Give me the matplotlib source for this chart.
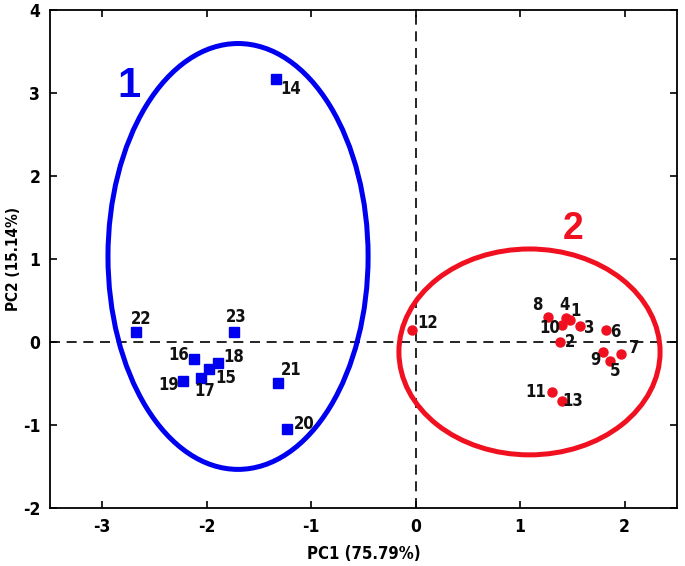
import matplotlib
matplotlib.use("Agg")
import matplotlib.pyplot as plt
from matplotlib.patches import Ellipse

plt.rcParams['font.family'] = ['DejaVu Sans']
plt.rcParams['font.stretch'] = 'condensed'
plt.rcParams['axes.unicode_minus'] = False

# ---- data ----
group1_ids = ["14", "22", "23", "16", "18", "15", "17", "19", "21", "20"]
group1_pc1 = [-1.34, -2.68, -1.74, -2.12, -1.89, -1.98, -2.05, -2.23, -1.32, -1.23]
group1_pc2 = [3.17, 0.12, 0.12, -0.21, -0.25, -0.32, -0.44, -0.47, -0.49, -1.05]

group2_ids = ["12", "8", "4", "1", "10", "3", "6", "2", "7", "9", "5", "11", "13"]
group2_pc1 = [-0.03, 1.27, 1.44, 1.48, 1.40, 1.57, 1.82, 1.38, 1.97, 1.79, 1.86, 1.31, 1.40]
group2_pc2 = [0.15, 0.30, 0.29, 0.26, 0.20, 0.19, 0.14, 0.00, -0.14, -0.12, -0.23, -0.60, -0.71]

# confidence ellipses: (center x, center y, width, height)
ellipse1 = (-1.70, 1.03, 2.49, 5.13)
ellipse2 = (1.09, -0.12, 2.50, 2.48)

x_ticks = [-3, -2, -1, 0, 1, 2]
y_ticks = [-2, -1, 0, 1, 2, 3, 4]

# ---- layout / style ----
label_offsets = {  # points
    "14": (11, -7), "22": (4, 9), "23": (2, 11), "16": (-11, 3), "18": (11, 4),
    "15": (12, -7), "17": (2, -9), "19": (-10, -3), "21": (10, 9), "20": (12, 4),
    "12": (11, 5), "8": (-8, 9), "4": (-1, 9), "1": (4, 7), "10": (-9, -2),
    "3": (7, -1), "6": (7, -1), "2": (7, 0), "7": (9, 4), "9": (-5, -6),
    "5": (4, -7), "11": (-12, 0), "13": (8, 0),
}
BLUE = "#0000F0"
RED = "#F01020"

fig = plt.figure(figsize=(6.85, 5.66), dpi=100)
ax = fig.add_axes([0.073, 0.1025, 0.915, 0.880])

ax.axhline(0, color="black", lw=1.2, ls=(0, (6, 4)), zorder=1)
ax.axvline(0, color="black", lw=1.2, ls=(0, (6, 4)), zorder=1)

for (cx, cy, w, h), col in [(ellipse1, BLUE), (ellipse2, RED)]:
    ax.add_patch(Ellipse((cx, cy), w, h, fill=False, edgecolor=col, lw=3.6, zorder=2))

ax.plot(group1_pc1, group1_pc2, ls="none", marker="s", ms=6.5, color=BLUE, zorder=3)
ax.plot(group2_pc1, group2_pc2, ls="none", marker="o", ms=6.5, color=RED, zorder=3)

for ids, xs, ys in [(group1_ids, group1_pc1, group1_pc2), (group2_ids, group2_pc1, group2_pc2)]:
    for lab, x, y in zip(ids, xs, ys):
        ax.annotate(lab, (x, y), xytext=label_offsets[lab], textcoords="offset points",
                    ha="center", va="center", fontsize=12, fontweight="bold", color="#111111", zorder=4)

ax.text(-2.74, 3.08, "1", color=BLUE, fontsize=30, fontweight="bold", ha="center", va="center",
        family=['Liberation Sans', 'DejaVu Sans'], stretch='normal')
ax.text(1.51, 1.36, "2", color=RED, fontsize=27, fontweight="bold", ha="center", va="center",
        family=['Liberation Sans', 'DejaVu Sans'], stretch='normal')

ax.set_xlim(-3.5, 2.5)
ax.set_ylim(-2, 4)
ax.set_xticks(x_ticks)
ax.set_yticks(y_ticks)
ax.tick_params(direction="in", length=5, width=1.2, top=True, right=True,
               labelsize=12.5, pad=7)
for lbl in ax.get_xticklabels() + ax.get_yticklabels():
    lbl.set_fontweight("bold")
for s in ax.spines.values():
    s.set_linewidth(1.3)

ax.set_xlabel("PC1 (75.79%)", fontsize=12, fontweight="bold", labelpad=7)
ax.set_ylabel("PC2 (15.14%)", fontsize=11, fontweight="semibold")
ax.yaxis.set_label_coords(-0.046, 0.5)

fig.savefig("out.png", dpi=100)
